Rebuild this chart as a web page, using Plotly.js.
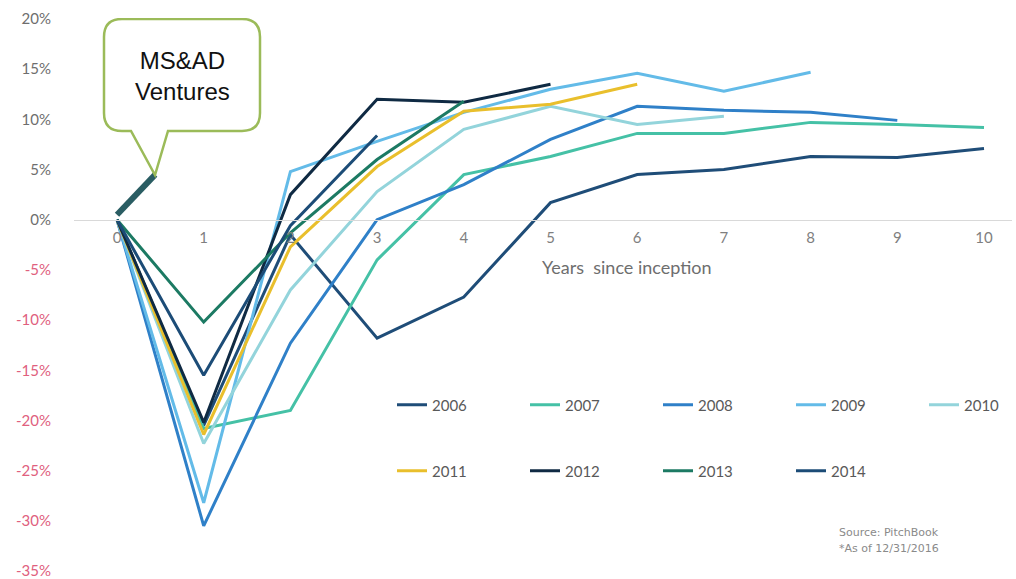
<!DOCTYPE html>
<html>
<head>
<meta charset="utf-8">
<script src="https://cdn.plot.ly/plotly-3.0.1.min.js"></script>
<style>html,body{margin:0;padding:0;background:#fff;}#chart{width:1016px;height:579px;}</style>
</head>
<body>
<div id="chart"></div>
<script>
// ---- data (returns in %, by years since inception) ----
const years = [0, 1, 2, 3, 4, 5, 6, 7, 8, 9, 10];
const vintages = ["2006", "2007", "2008", "2009", "2010", "2011", "2012", "2013", "2014"];
const v2006 = [0, -20.5, -1.5, -11.8, -7.7, 1.7, 4.5, 5.0, 6.3, 6.2, 7.1];
const v2007 = [0, -20.8, -19.0, -4.0, 4.5, 6.3, 8.6, 8.6, 9.7, 9.5, 9.2];
const v2008 = [0, -30.5, -12.3, 0.0, 3.5, 8.0, 11.3, 10.9, 10.7, 9.9];
const v2009 = [0, -28.2, 4.8, 7.8, 10.7, 13.0, 14.6, 12.8, 14.7];
const v2010 = [0, -22.3, -7.0, 2.8, 9.0, 11.3, 9.5, 10.3];
const v2011 = [0, -21.4, -2.7, 5.3, 10.8, 11.5, 13.5];
const v2012 = [0, -20.2, 2.5, 12.0, 11.7, 13.5];
const v2013 = [0, -10.2, -1.3, 6.0, 11.8];
const v2014 = [0, -15.5, -0.6, 8.4];
const seriesValues = [v2006, v2007, v2008, v2009, v2010, v2011, v2012, v2013, v2014];
const seriesColors = ["#1f4d78", "#45c1a6", "#2f80c8", "#63bbe8", "#93d4db", "#e9bf2c", "#0f2a43", "#1c7a63", "#1c4c77"];
const yTickVals = [20, 15, 10, 5, 0, -5, -10, -15, -20, -25, -30, -35];
const yTickText = yTickVals.map(v => v < 0 ? '<span style="color:#e0607e">' + v + '%</span>' : v + '%');
const xTickVals = [0, 1, 2, 3, 4, 5, 6, 7, 8, 9, 10];
const msadX = [0, 0.44];
const msadY = [0.5, 4.5];

// ---- geometry helpers for decoration (pixel -> data) ----
const M = {l: 74, r: 4, t: 18, b: 7, autoexpand: false};
const W = 1016 - M.l - M.r, H = 579 - M.t - M.b;
const xRange = [-0.496, 10.323], yRange = [-35.1, 20.1];
const dx = px => xRange[0] + (px - M.l) / W * (xRange[1] - xRange[0]);
const dy = py => yRange[1] - (py - M.t) / H * (yRange[1] - yRange[0]);
function calloutPath() {
  const L = 104, R = 260, T = 19, B = 131, r = 18;
  const p = (x, y) => dx(x).toFixed(4) + ',' + dy(y).toFixed(4);
  return 'M' + p(L + r, T) + ' L' + p(R - r, T) + ' Q' + p(R, T) + ' ' + p(R, T + r) +
    ' L' + p(R, B - r) + ' Q' + p(R, B) + ' ' + p(R - r, B) +
    ' L' + p(168, B) + ' L' + p(155, 175) + ' L' + p(131, B) +
    ' L' + p(L + r, B) + ' Q' + p(L, B) + ' ' + p(L, B - r) +
    ' L' + p(L, T + r) + ' Q' + p(L, T) + ' ' + p(L + r, T) + ' Z';
}

const traces = vintages.map((name, i) => ({
  type: 'scatter', mode: 'lines', name: name,
  x: years.slice(0, seriesValues[i].length), y: seriesValues[i],
  line: {color: seriesColors[i], width: 3},
  legend: i < 5 ? 'legend' : 'legend2',
  hoverinfo: 'x+y+name'
}));
traces.push({
  type: 'scatter', mode: 'lines', x: msadX, y: msadY, showlegend: false,
  line: {color: '#2a5d63', width: 6}, hoverinfo: 'skip'
});

const legendFont = {family: 'Lato, "Open Sans", sans-serif', size: 15, color: '#595959'};
const legendX = (392 - M.l) / W;
const layout = {
  width: 1016, height: 579,
  margin: M,
  paper_bgcolor: '#ffffff', plot_bgcolor: '#ffffff',
  showlegend: true,
  font: {family: 'Lato, "Open Sans", sans-serif', color: '#7f7f7f', size: 15},
  xaxis: {
    range: xRange, tickvals: xTickVals, ticktext: xTickVals.map(String),
    showgrid: false, zeroline: false, showline: true, linecolor: '#d9d9d9', linewidth: 1.5,
    anchor: 'free', position: (0 - yRange[0]) / (yRange[1] - yRange[0]),
    ticks: '', ticklabelstandoff: 4, tickfont: {size: 15, color: '#7f7f7f'}, fixedrange: true
  },
  yaxis: {
    range: yRange, tickvals: yTickVals, ticktext: yTickText,
    showgrid: false, zeroline: false, showline: false, ticks: '',
    ticklabelstandoff: 22, ticklabeloverflow: 'allow',
    tickfont: {size: 15, color: '#6e6e6e'}, fixedrange: true
  },
  legend: {
    orientation: 'h', x: legendX, xanchor: 'left', y: 1 - (405 - M.t) / H, yanchor: 'middle',
    entrywidth: 88, entrywidthmode: 'pixels', font: legendFont, bgcolor: 'rgba(0,0,0,0)'
  },
  legend2: {
    orientation: 'h', x: legendX, xanchor: 'left', y: 1 - (471 - M.t) / H, yanchor: 'middle',
    entrywidth: 88, entrywidthmode: 'pixels', font: legendFont, bgcolor: 'rgba(0,0,0,0)'
  },
  shapes: [{
    type: 'path', xref: 'x', yref: 'y', path: calloutPath(),
    line: {color: '#9bbb59', width: 2.5}, fillcolor: '#ffffff', layer: 'above'
  }],
  annotations: [
    {xref: 'x', yref: 'y', x: dx(182), y: dy(76), text: 'MS&amp;AD<br>Ventures', showarrow: false,
     font: {family: '"Liberation Sans", Arial, sans-serif', size: 24, color: '#111111'}, align: 'center'},
    {xref: 'x', yref: 'y', x: dx(627), y: dy(267), text: 'Years  since inception', showarrow: false,
     font: {size: 18, color: '#6e6e6e'}},
    {xref: 'x', yref: 'y', x: dx(941), y: dy(532), xanchor: 'right', text: 'Source: PitchBook', showarrow: false,
     font: {family: '"DejaVu Sans", sans-serif', size: 11, color: '#8a8a8a'}},
    {xref: 'x', yref: 'y', x: dx(941), y: dy(548), xanchor: 'right', text: '*As of 12/31/2016', showarrow: false,
     font: {family: '"DejaVu Sans", sans-serif', size: 11, color: '#8a8a8a'}}
  ]
};

Plotly.newPlot('chart', traces, layout, {displayModeBar: false, staticPlot: true});
</script>
</body>
</html>
